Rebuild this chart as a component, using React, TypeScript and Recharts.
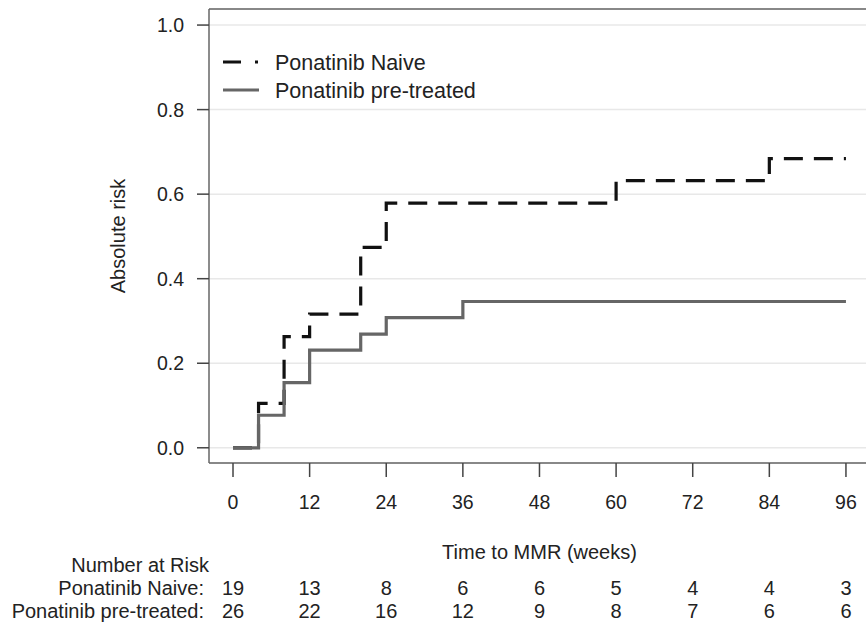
import React from "react";
import {
  LineChart,
  Line,
  XAxis,
  YAxis,
  CartesianGrid,
  ReferenceLine,
  Legend,
} from "recharts";

// step data
const weeks = [0, 4, 8, 12, 20, 24, 36, 60, 84, 96];
const naiveRisk = [0, 0.105, 0.263, 0.316, 0.474, 0.579, 0.579, 0.632, 0.684, 0.684];
const pretreatedRisk = [0, 0.077, 0.154, 0.231, 0.269, 0.308, 0.346, 0.346, 0.346, 0.346];

const xTicks = [0, 12, 24, 36, 48, 60, 72, 84, 96];
const yTicks = [0, 0.2, 0.4, 0.6, 0.8, 1.0];

// number at risk table, one value per x tick
const naiveAtRisk = [19, 13, 8, 6, 6, 5, 4, 4, 3];
const pretreatedAtRisk = [26, 22, 16, 12, 9, 8, 7, 6, 6];

const X_DOMAIN = [-3.76, 99.14];
const Y_DOMAIN = [-0.036, 1.038];

const FONT = "'Liberation Sans', Arial, Helvetica, sans-serif";
const TEXT = "#222";
const FRAME = "#666";

const data = weeks.map((w, i) => ({
  week: w,
  naive: naiveRisk[i],
  pretreated: pretreatedRisk[i],
}));

const XTick = (props: any) => {
  const { x, y, payload, index } = props;
  return (
    <g>
      <text x={x} y={y + 25} dy="0.35em" textAnchor="middle" fontSize={19.5} fill={TEXT}>
        {payload.value}
      </text>
      <text x={x} y={y + 111} dy="0.35em" textAnchor="middle" fontSize={20} fill={TEXT}>
        {naiveAtRisk[index]}
      </text>
      <text x={x} y={y + 134} dy="0.35em" textAnchor="middle" fontSize={20} fill={TEXT}>
        {pretreatedAtRisk[index]}
      </text>
      {index === 0 && (
        <g fontSize={20} fill={TEXT} textAnchor="end">
          <text x={x - 24} y={y + 88} dy="0.35em">Number at Risk</text>
          <text x={x - 29} y={y + 111} dy="0.35em">Ponatinib Naive:</text>
          <text x={x - 29} y={y + 134} dy="0.35em">Ponatinib pre-treated:</text>
        </g>
      )}
    </g>
  );
};

const LegendBox = () => (
  <svg width={320} height={60} style={{ fontFamily: FONT, display: "block" }}>
    <line x1={3} y1={14} x2={38} y2={14} stroke="#111" strokeWidth={3.2} strokeDasharray="18 14" />
    <text x={55} y={14} dy="0.35em" fontSize={21.5} fill={TEXT}>Ponatinib Naive</text>
    <line x1={3} y1={42} x2={39} y2={42} stroke="#666" strokeWidth={3.2} />
    <text x={55} y={42} dy="0.35em" fontSize={21.5} fill={TEXT}>Ponatinib pre-treated</text>
  </svg>
);

export default function App() {
  return (
    <div style={{ position: "absolute", left: 0, top: 0, width: 866, height: 622, background: "#fff" }}>
      <LineChart
        width={866}
        height={622}
        data={data}
        margin={{ top: 9, right: 0, left: 0, bottom: 0 }}
        style={{ fontFamily: FONT, overflow: "visible" }}
      >
        <CartesianGrid horizontal vertical={false} stroke="#e8e8e8" strokeWidth={1.5} />
        <XAxis
          dataKey="week"
          type="number"
          domain={X_DOMAIN}
          ticks={xTicks}
          allowDataOverflow
          height={159}
          tickSize={14}
          tickMargin={0}
          axisLine={{ stroke: FRAME, strokeWidth: 1.5 }}
          tickLine={{ stroke: "#444", strokeWidth: 1.5 }}
          tick={<XTick />}
          interval={0}
          label={{
            value: "Time to MMR (weeks)",
            position: "insideBottom",
            offset: 63,
            dx: 2,
            fontSize: 20,
            fill: TEXT,
          }}
        />
        <YAxis
          type="number"
          domain={Y_DOMAIN}
          ticks={yTicks}
          allowDataOverflow
          width={209}
          tickSize={12}
          tickMargin={13}
          axisLine={{ stroke: FRAME, strokeWidth: 1.5 }}
          tickLine={{ stroke: "#444", strokeWidth: 1.5 }}
          tick={{ fontSize: 19.5, fill: TEXT }}
          tickFormatter={(v: number) => v.toFixed(1)}
          label={{
            value: "Absolute risk",
            angle: -90,
            position: "insideLeft",
            offset: 118,
            fontSize: 20,
            fill: TEXT,
            style: { textAnchor: "middle" },
          }}
        />
        <ReferenceLine y={Y_DOMAIN[1]} stroke={FRAME} strokeWidth={1.5} />
        <Legend
          layout="vertical"
          align="center"
          verticalAlign="middle"
          content={<LegendBox />}
          wrapperStyle={{ position: "absolute", left: 220, top: 48, width: 320, height: 60 }}
        />
        <Line
          type="stepAfter"
          dataKey="naive"
          stroke="#111"
          strokeWidth={3.2}
          strokeDasharray="19 11"
          dot={false}
          isAnimationActive={false}
        />
        <Line
          type="stepAfter"
          dataKey="pretreated"
          stroke="#666"
          strokeWidth={3.2}
          dot={false}
          isAnimationActive={false}
        />
      </LineChart>
    </div>
  );
}
